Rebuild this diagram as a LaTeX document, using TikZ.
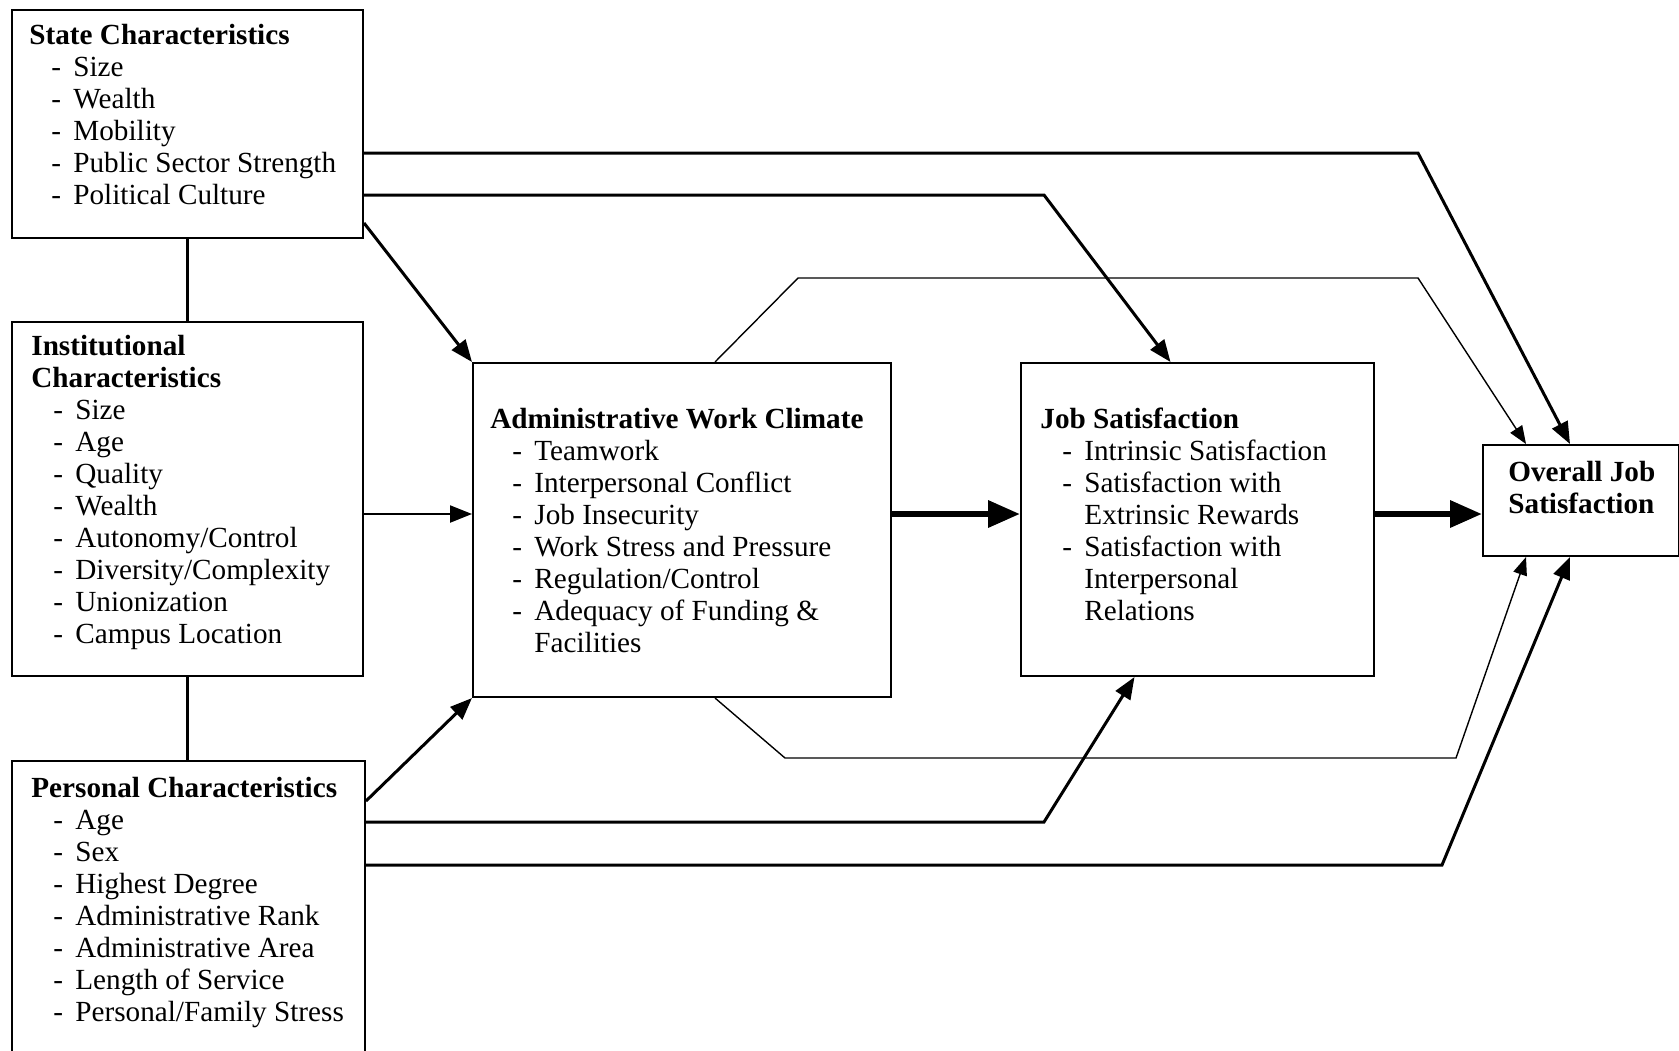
\documentclass[tikz,border=0pt]{standalone}
\usepackage{fontspec}
\setmainfont{Liberation Serif}
\usetikzlibrary{arrows.meta}
\usetikzlibrary{calc}
\tikzset{
  % boxes and their texts
  box/.style={draw, line width=1pt, anchor=north west, inner sep=0pt},
  txt/.style={anchor=base west, inner sep=0pt},
  % connectors
  tie/.style={draw, line width=1.5pt},
  link/.style={draw, line width=1.5pt, -{Triangle[length=11pt,width=8.5pt]}},
  midlink/.style={draw, line width=1.1pt, -{Triangle[length=11pt,width=8.5pt]}},
  thinlink/.style={draw, line width=0.7pt, -{Triangle[length=9pt,width=7pt]}},
  mainlink/.style={draw, line width=3.2pt, -{Triangle[length=16pt,width=13pt]}}
}
\newcommand{\itm}[1]{\hspace*{11pt}\makebox[11pt][l]{-}#1}
\newcommand{\cnt}[1]{\hspace*{22pt}#1}
\newcommand{\boxtext}[1]{\begin{tabular}[t]{@{}l@{}}#1\end{tabular}}

\begin{document}
\begin{tikzpicture}[x=0.5pt, y=-0.5pt, font=\fontsize{14.6}{16}\selectfont]
    \useasboundingbox (0,0) rectangle (1679,1050);
    \clip (0,0) rectangle (1679,1050);

    % Place boxes
    \node [box, minimum width=175.5pt, minimum height=114pt] (state) at (11,9) {};
    \node [box, minimum width=175.5pt, minimum height=177pt] (inst) at (11,321) {};
    \node [box, minimum width=176.5pt, minimum height=180pt] (pers) at (11,760) {};
    \node [box, minimum width=209pt, minimum height=167pt] (climate) at (472,362) {};
    \node [box, minimum width=176.5pt, minimum height=156.5pt] (jobsat) at (1020,362) {};
    \node [box, minimum width=98pt, minimum height=55.5pt] (overall) at (1482,444) {};

    % Texts in the boxes
    \node [txt] (stateText) at (29,44) {\boxtext{\textbf{State Characteristics}\\
      \itm{Size}\\ \itm{Wealth}\\ \itm{Mobility}\\ \itm{Public Sector Strength}\\ \itm{Political Culture}}};
    \node [txt] (instText) at (31,355) {\boxtext{\textbf{Institutional}\\ \textbf{Characteristics}\\
      \itm{Size}\\ \itm{Age}\\ \itm{Quality}\\ \itm{Wealth}\\ \itm{Autonomy/Control}\\
      \itm{Diversity/Complexity}\\ \itm{Unionization}\\ \itm{Campus Location}}};
    \node [txt] (persText) at (31,797) {\boxtext{\textbf{Personal Characteristics}\\
      \itm{Age}\\ \itm{Sex}\\ \itm{Highest Degree}\\ \itm{Administrative Rank}\\
      \itm{Administrative Area}\\ \itm{Length of Service}\\ \itm{Personal/Family Stress}}};
    \node [txt] (climateText) at (490,428) {\boxtext{\textbf{Administrative Work Climate}\\
      \itm{Teamwork}\\ \itm{Interpersonal Conflict}\\ \itm{Job Insecurity}\\
      \itm{Work Stress and Pressure}\\ \itm{Regulation/Control}\\
      \itm{Adequacy of Funding \&}\\ \cnt{Facilities}}};
    \node [txt] (jobsatText) at (1040,428) {\boxtext{\textbf{Job Satisfaction}\\
      \itm{Intrinsic Satisfaction}\\ \itm{Satisfaction with}\\ \cnt{Extrinsic Rewards}\\
      \itm{Satisfaction with}\\ \cnt{Interpersonal}\\ \cnt{Relations}}};
    \node [txt] (overallText) at (1508,481) {\boxtext{\textbf{Overall Job}\\ \textbf{Satisfaction}}};

    % Bend points
    \coordinate (bendA) at (1418,153);
    \coordinate (bendB) at (1044,195);
    \coordinate (bendD1) at (798,278);
    \coordinate (bendD2) at (1418,278);
    \coordinate (midrow) at (0,514);
    \coordinate (bendI1) at (785,758);
    \coordinate (bendI2) at (1456,758);
    \coordinate (bendJ) at (1044,822);
    \coordinate (bendK) at (1442,865);

    % Draw edges
    \path [tie] (state.south) -- (inst.north);
    \path [tie] (inst.south) -- (inst.south |- pers.north);
    \path [link] (state.east |- bendA) -- (bendA) -- ($(overall.north)+(-11,0)$);
    \path [link] (state.east |- bendB) -- (bendB) -- ($(jobsat.north)+(-27,0)$);
    \path [link] ($(state.south east)+(0,-16)$) -- (climate.north west);
    \path [thinlink] ($(climate.north west)+(243,0)$) -- (bendD1) -- (bendD2) -- ($(overall.north)+(-55,0)$);
    \path [midlink] (inst.east |- midrow) -- (climate.west |- midrow);
    \path [mainlink] (climate.east |- midrow) -- (jobsat.west |- midrow);
    \path [mainlink] (jobsat.east |- midrow) -- (overall.west |- midrow);
    \path [link] ($(pers.north east)+(0,41)$) -- (climate.south west);
    \path [thinlink] ($(climate.south west)+(243,0)$) -- (bendI1) -- (bendI2) -- ($(overall.south)+(-55,0)$);
    \path [link] (pers.east |- bendJ) -- (bendJ) -- ($(jobsat.south)+(-63,0)$);
    \path [link] (pers.east |- bendK) -- (bendK) -- ($(overall.south)+(-11,0)$);

\end{tikzpicture}
\end{document}
